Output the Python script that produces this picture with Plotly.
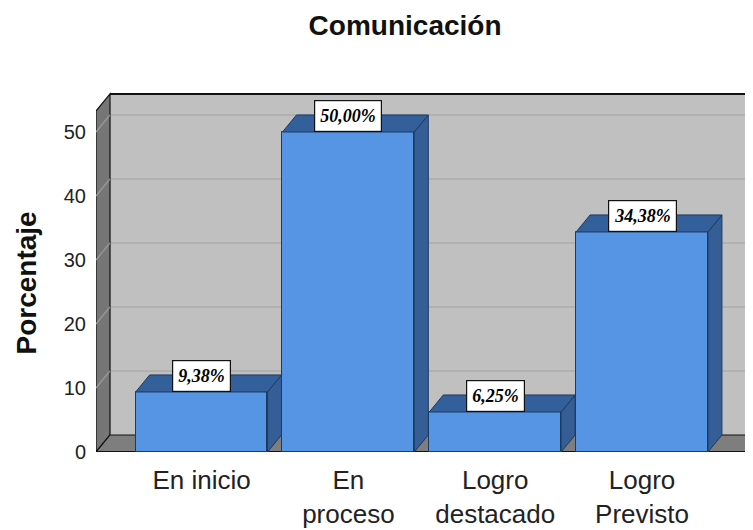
import plotly.graph_objects as go

# ---- data ----
categories = ["En inicio", "En<br>proceso", "Logro<br>destacado", "Logro<br>Previsto"]
values = [9.38, 50.00, 6.25, 34.38]
labels = ["9,38%", "50,00%", "6,25%", "34,38%"]
y_ticks = [0, 10, 20, 30, 40, 50]

# ---- geometry (3D look) ----
BAR_W = 0.898
DX = 0.0954   # depth offset in x units
DY = 2.66     # depth offset in y units
X0 = -0.719   # front-left of box
XR = 3.723    # front-right of floor
WALL_TOP = 53.28
X_RANGE = [X0, 3.756]
Y_RANGE = [0, 56.25]

FRONT = "#5595e3"
TOP = "#335f9a"
SIDE = "#365e96"
EDGE = "#1d3a63"

xs = list(range(len(categories)))

fig = go.Figure()

shapes = []
# back wall
shapes.append(dict(type="rect", xref="x", yref="y", x0=X0 + DX, x1=XR + 2, y0=DY, y1=WALL_TOP + DY,
                   fillcolor="#c0c0c0", line=dict(width=0), layer="below"))
# gridlines on back wall and left wall
for v in y_ticks[1:]:
    shapes.append(dict(type="line", xref="x", yref="y", x0=X0 + DX, x1=XR + 2, y0=v + DY, y1=v + DY,
                       line=dict(color="#adadad", width=1.5), layer="below"))
# left wall
shapes.append(dict(type="path", xref="x", yref="y",
                   path=f"M {X0},0 L {X0},{WALL_TOP} L {X0+DX},{WALL_TOP+DY} L {X0+DX},{DY} Z",
                   fillcolor="#767676", line=dict(color="#111111", width=1.2), layer="below"))
for v in y_ticks[1:]:
    shapes.append(dict(type="line", xref="x", yref="y", x0=X0, x1=X0 + DX, y0=v, y1=v + DY,
                       line=dict(color="#9c9c9c", width=1.2), layer="below"))
# floor
shapes.append(dict(type="path", xref="x", yref="y",
                   path=f"M {X0},0 L {XR},0 L {XR+DX},{DY} L {X0+DX},{DY} Z",
                   fillcolor="#7e7e7e", line=dict(color="#111111", width=1.2), layer="below"))
# top edge of back wall
shapes.append(dict(type="line", xref="x", yref="y", x0=X0 + DX, x1=XR + 2, y0=WALL_TOP + DY, y1=WALL_TOP + DY,
                   line=dict(color="#111111", width=2), layer="below"))
# front edge of floor
shapes.append(dict(type="line", xref="x", yref="y", x0=X0, x1=XR, y0=0, y1=0,
                   line=dict(color="#111111", width=2), layer="below"))

# side and top faces of bars (computed from values)
for xi, v in zip(xs, values):
    l, r = xi - BAR_W / 2, xi + BAR_W / 2
    fig.add_trace(go.Scatter(x=[r, r + DX, r + DX, r, r], y=[0, DY, v + DY, v, 0],
                             mode="lines", fill="toself", fillcolor=SIDE,
                             line=dict(color=EDGE, width=1), hoverinfo="skip", showlegend=False))
    fig.add_trace(go.Scatter(x=[l, r, r + DX, l + DX, l], y=[v, v, v + DY, v + DY, v],
                             mode="lines", fill="toself", fillcolor=TOP,
                             line=dict(color=EDGE, width=1), hoverinfo="skip", showlegend=False))

# front faces
fig.add_trace(go.Bar(x=xs, y=values, width=BAR_W, marker=dict(color=FRONT, line=dict(color=EDGE, width=1)),
                     showlegend=False, hoverinfo="skip"))

annotations = []
for xi, v, t in zip(xs, values, labels):
    annotations.append(dict(x=xi, y=v, xref="x", yref="y", text=f"<b><i>{t}</i></b>", showarrow=False,
                            yanchor="bottom", font=dict(family="Liberation Serif", size=18, color="black"),
                            bgcolor="white", bordercolor="#111111", borderwidth=1.2, borderpad=5))
annotations.append(dict(text="<b>Porcentaje</b>", xref="paper", yref="paper", x=-0.106, y=0.469,
                        textangle=-90, showarrow=False, xanchor="center", yanchor="middle",
                        font=dict(family="Liberation Sans", size=28, color="#111111")))

fig.update_layout(
    width=745, height=522,
    margin=dict(l=88, r=0, t=84, b=78),
    paper_bgcolor="white", plot_bgcolor="white",
    title=dict(text="<b>Comunicación</b>", x=0.533, xref="container", y=0.967, yref="container",
               xanchor="center", yanchor="middle",
               font=dict(family="Liberation Sans", size=28, color="#111111")),
    shapes=shapes, annotations=annotations,
    xaxis=dict(range=X_RANGE, tickvals=xs, ticktext=categories, showgrid=False, zeroline=False,
               showline=False, ticks="", ticklabelstandoff=10,
               tickfont=dict(family="Liberation Sans", size=26, color="#222222")),
    yaxis=dict(range=Y_RANGE, tickvals=y_ticks, showgrid=False, zeroline=False, showline=False,
               ticks="", ticklabelstandoff=9,
               tickfont=dict(family="Liberation Sans", size=20, color="#222222")),
    bargap=0,
)

fig.write_html("out.html")
